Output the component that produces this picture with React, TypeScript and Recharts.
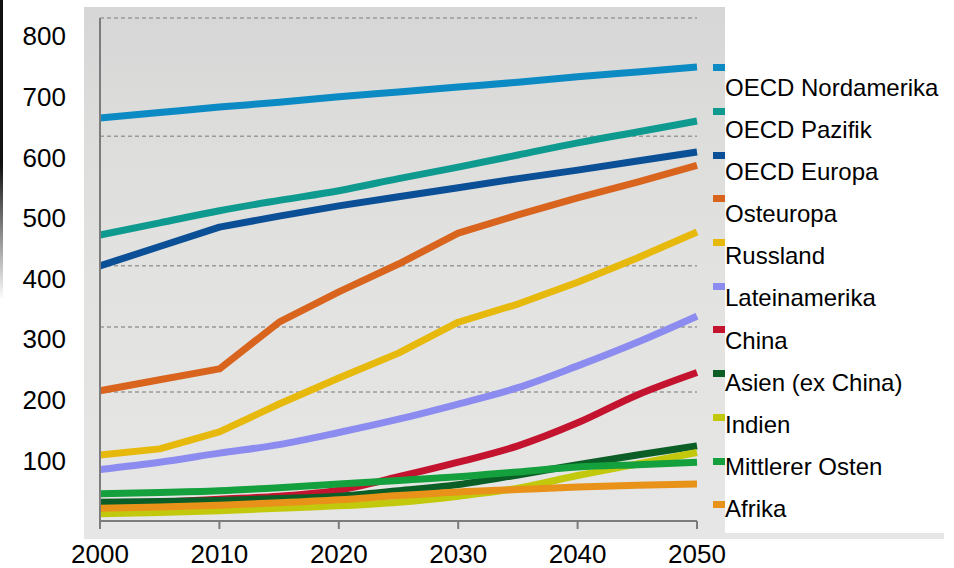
import React from "react";
import { LineChart, Line, XAxis, YAxis, ReferenceLine } from "recharts";

// Jahre (x) und Werte je Region
const YEARS = [2000, 2005, 2010, 2015, 2020, 2025, 2030, 2035, 2040, 2045, 2050];

const OECD_NORDAMERIKA = [665, 674, 683, 691, 700, 708, 716, 724, 733, 741, 749];
const OECD_PAZIFIK = [472, 492, 512, 529, 545, 565, 584, 604, 624, 642, 660];
const OECD_EUROPA = [421, 453, 485, 503, 520, 535, 550, 565, 579, 594, 609];
const OSTEUROPA = [215, 233, 251, 328, 378, 424, 475, 505, 533, 559, 587];
const RUSSLAND = [109, 119, 147, 193, 236, 277, 328, 358, 394, 434, 477];
const LATEINAMERIKA = [85, 97, 112, 126, 146, 168, 193, 220, 256, 295, 338];
const CHINA = [26, 31, 36, 41, 51, 73, 97, 124, 162, 208, 245];
const ASIEN = [31, 32, 34, 37, 41, 50, 60, 76, 93, 109, 124];
const INDIEN = [12, 14, 17, 21, 25, 31, 41, 54, 75, 94, 113];
const MITTLERER_OSTEN = [45, 47, 50, 55, 61, 67, 73, 81, 89, 93, 97];
const AFRIKA = [21, 23, 26, 30, 35, 42, 48, 52, 56, 59, 61];

const Y_TICKS = [100, 200, 300, 400, 500, 600, 700, 800];
const X_TICKS = [2000, 2010, 2020, 2030, 2040, 2050];
// gepunktete Hilfslinien der Vorlage
const GRID_LEVELS = [830, 635, 421, 320, 213];

// curve: Linien mit Knick bleiben "linear", die übrigen werden geglättet
const SERIES = [
  { key: "nordamerika", name: "OECD Nordamerika", color: "#0b8ac4", values: OECD_NORDAMERIKA, curve: "monotone" },
  { key: "pazifik", name: "OECD Pazifik", color: "#0f9a90", values: OECD_PAZIFIK, curve: "monotone" },
  { key: "europa", name: "OECD Europa", color: "#0b4f96", values: OECD_EUROPA, curve: "linear" },
  { key: "osteuropa", name: "Osteuropa", color: "#d8641e", values: OSTEUROPA, curve: "linear" },
  { key: "russland", name: "Russland", color: "#e6b90c", values: RUSSLAND, curve: "linear" },
  { key: "lateinamerika", name: "Lateinamerika", color: "#8c8cf0", values: LATEINAMERIKA, curve: "monotone" },
  { key: "china", name: "China", color: "#c4132f", values: CHINA, curve: "monotone" },
  { key: "asien", name: "Asien (ex China)", color: "#0b5e25", values: ASIEN, curve: "monotone" },
  { key: "indien", name: "Indien", color: "#c2c90c", values: INDIEN, curve: "monotone" },
  { key: "mittlererOsten", name: "Mittlerer Osten", color: "#14a03c", values: MITTLERER_OSTEN, curve: "monotone" },
  { key: "afrika", name: "Afrika", color: "#e8921a", values: AFRIKA, curve: "monotone" },
];

const data = YEARS.map((year, i) => {
  const row: Record<string, number> = { year };
  SERIES.forEach((s) => {
    row[s.key] = s.values[i];
  });
  return row;
});

const FONT = '"Liberation Sans", Arial, Helvetica, sans-serif';
const AXIS_GRAY = "#7c7c7c";

export default function App() {
  return (
    <div
      style={{
        position: "absolute",
        left: 0,
        top: 0,
        width: 954,
        height: 568,
        background: "#fff",
        fontFamily: FONT,
        overflow: "hidden",
      }}
    >
      {/* dunkler Rand links */}
      <div
        style={{
          position: "absolute",
          left: 0,
          top: 0,
          width: 3,
          height: 300,
          background: "linear-gradient(to bottom, #111 55%, #fff)",
        }}
      />
      {/* grauer Hintergrund */}
      <div
        style={{
          position: "absolute",
          left: 84,
          top: 7,
          width: 641,
          height: 532,
          background:
            "linear-gradient(to bottom, #d6d6d6 0%, #dcdcdb 20%, #e2e2e0 50%, #e6e6e6 100%)",
        }}
      />
      <div
        style={{
          position: "absolute",
          left: 725,
          top: 533,
          width: 219,
          height: 6,
          background: "#e6e6e6",
        }}
      />

      <LineChart
        width={954}
        height={568}
        data={data}
        margin={{ top: 18, right: 257, bottom: 0, left: 0 }}
        style={{ position: "absolute", left: 0, top: 0 }}
      >
        {GRID_LEVELS.map((v) => (
          <ReferenceLine
            key={v}
            y={v}
            stroke="#9a9a9a"
            strokeWidth={1.5}
            strokeDasharray="4 3"
          />
        ))}
        <XAxis
          dataKey="year"
          type="number"
          domain={[2000, 2050]}
          ticks={X_TICKS}
          height={47}
          tickSize={8}
          tickMargin={16}
          axisLine={{ stroke: AXIS_GRAY, strokeWidth: 2 }}
          tickLine={{ stroke: AXIS_GRAY, strokeWidth: 2 }}
          tick={{ fill: "#000", fontSize: 26, fontFamily: FONT }}
        />
        <YAxis
          type="number"
          domain={[0, 830]}
          ticks={Y_TICKS}
          width={100}
          tickSize={0}
          tickMargin={34}
          axisLine={{ stroke: AXIS_GRAY, strokeWidth: 2 }}
          tickLine={false}
          tick={{ fill: "#000", fontSize: 26, fontFamily: FONT }}
        />
        {SERIES.map((s) => (
          <Line
            key={s.key}
            type={s.curve as "linear" | "monotone"}
            dataKey={s.key}
            name={s.name}
            stroke={s.color}
            strokeWidth={7}
            strokeLinejoin="round"
            dot={false}
            isAnimationActive={false}
          />
        ))}
      </LineChart>

      {/* Legende: Farbmarken */}
      <div style={{ position: "absolute", left: 713, top: 46 }}>
        {SERIES.map((s) => (
          <div
            key={s.key}
            style={{ height: 43.7, display: "flex", alignItems: "center" }}
          >
            <div style={{ width: 12, height: 7, background: s.color }} />
          </div>
        ))}
      </div>
      {/* Legende: Beschriftungen */}
      <div style={{ position: "absolute", left: 725, top: 67 }}>
        {SERIES.map((s) => (
          <div
            key={s.key}
            style={{
              height: 42.1,
              lineHeight: "42.1px",
              fontSize: 24,
              color: "#000",
              whiteSpace: "nowrap",
            }}
          >
            {s.name}
          </div>
        ))}
      </div>
    </div>
  );
}
